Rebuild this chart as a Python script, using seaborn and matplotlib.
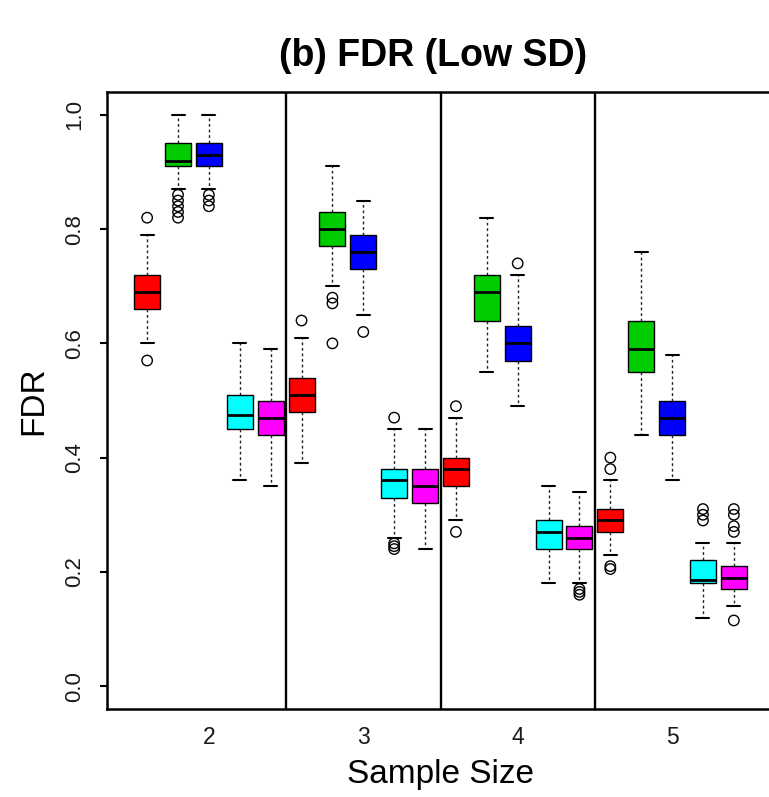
import numpy as np
import pandas as pd
import matplotlib
matplotlib.use("Agg")
import matplotlib.pyplot as plt
import seaborn as sns

# ---------------- data ----------------
sample_sizes = ["2", "3", "4", "5"]
methods = ["M1", "M2", "M3", "M4", "M5"]
method_colors = ["#FF0000", "#00CC00", "#0000FF", "#00FFFF", "#FF00FF"]

# five-number summaries, order: for each sample size, methods M1..M5
whisker_low = [0.60, 0.87, 0.87, 0.36, 0.35,
               0.39, 0.70, 0.65, 0.26, 0.24,
               0.29, 0.55, 0.49, 0.18, 0.18,
               0.23, 0.44, 0.36, 0.12, 0.14]
q1 = [0.66, 0.91, 0.91, 0.45, 0.44,
      0.48, 0.77, 0.73, 0.33, 0.32,
      0.35, 0.64, 0.57, 0.24, 0.24,
      0.27, 0.55, 0.44, 0.18, 0.17]
median = [0.69, 0.92, 0.93, 0.475, 0.47,
          0.51, 0.80, 0.76, 0.36, 0.35,
          0.38, 0.69, 0.60, 0.27, 0.26,
          0.29, 0.59, 0.47, 0.185, 0.19]
q3 = [0.72, 0.95, 0.95, 0.51, 0.50,
      0.54, 0.83, 0.79, 0.38, 0.38,
      0.40, 0.72, 0.63, 0.29, 0.28,
      0.31, 0.64, 0.50, 0.22, 0.21]
whisker_high = [0.79, 1.00, 1.00, 0.60, 0.59,
                0.61, 0.91, 0.85, 0.45, 0.45,
                0.47, 0.82, 0.72, 0.35, 0.34,
                0.36, 0.76, 0.58, 0.25, 0.25]
outliers = [[0.82, 0.57], [0.86, 0.85, 0.84, 0.83, 0.82], [0.86, 0.85, 0.84], [], [],
            [0.64], [0.68, 0.67, 0.60], [0.62], [0.47, 0.25, 0.245, 0.24], [],
            [0.49, 0.27], [], [0.74], [], [0.17, 0.165, 0.16],
            [0.40, 0.38, 0.21, 0.205], [], [], [0.31, 0.30, 0.29], [0.31, 0.30, 0.28, 0.27, 0.115]]

box_order = [f"{s}-{m}" for s in sample_sizes for m in methods]
box_colors = method_colors * len(sample_sizes)

rows = []
for i, b in enumerate(box_order):
    for v in (whisker_low[i], q1[i], median[i], q3[i], whisker_high[i]):
        rows.append({"box": b, "value": v})
df = pd.DataFrame(rows)
out_df = pd.DataFrame([{"box": b, "value": v}
                       for b, vals in zip(box_order, outliers) for v in vals])

# ---------------- figure ----------------
sns.set_theme(style="white")
plt.rcParams["font.family"] = ["Liberation Sans", "DejaVu Sans"]
plt.rcParams["text.color"] = "black"

W, H = 769, 797
fig = plt.figure(figsize=(W / 100, H / 100), dpi=100)
ax = fig.add_axes([107 / W, (H - 709) / H, 667 / W, (709 - 92) / H])

sns.boxplot(data=df, x="box", y="value", hue="box", order=box_order,
            hue_order=box_order, palette=box_colors, legend=False,
            whis=(0, 100), width=0.84, saturation=1, fliersize=0,
            linewidth=1.0, linecolor="black",
            medianprops=dict(color="black", linewidth=2.0),
            whiskerprops=dict(color="#222222", linewidth=1.0, linestyle=(0, (2, 2))),
            capprops=dict(color="black", linewidth=1.5),
            ax=ax)

n_before = len(ax.collections)
sns.stripplot(data=out_df, x="box", y="value", order=box_order, jitter=False,
              color="white", edgecolor="black", linewidth=1.0, size=7.5, ax=ax)
for coll in ax.collections[n_before:]:
    coll.set_facecolor("none")
    coll.set_edgecolor("black")

n_m = len(methods)
for g in range(1, len(sample_sizes)):
    ax.axvline(g * n_m - 0.5, color="black", linewidth=1.7, zorder=0)

ax.set_xlim(-1.3, len(box_order) - 1 + 1.3)
ax.set_ylim(-0.04, 1.04)

ax.set_xticks([g * n_m + n_m // 2 for g in range(len(sample_sizes))])
ax.set_xticklabels(sample_sizes)
ax.set_yticks(np.arange(0, 1.01, 0.2))
ax.set_yticklabels([f"{v:.1f}" for v in np.arange(0, 1.01, 0.2)], rotation=90, va="center")

ax.tick_params(axis="x", length=0, pad=12, labelsize=16.5, labelcolor="#1a1a1a")
ax.tick_params(axis="y", left=True, length=5, width=1.5, pad=11, labelsize=16,
               labelcolor="#1a1a1a", color="black")

for sp in ax.spines.values():
    sp.set_linewidth(1.8)
    sp.set_color("black")

ax.set_xlabel("Sample Size", fontsize=24, color="black")
ax.xaxis.set_label_coords(0.5, -0.081)
ax.xaxis.label.set_va("top")
ax.set_ylabel("FDR", fontsize=24, color="black")
ax.yaxis.set_label_coords(-0.087, 0.5)

ax.set_title("(b) FDR (Low SD)", fontsize=27, fontweight="bold", x=0.489, pad=19,
             color="black")

fig.savefig("out.png", dpi=100)
